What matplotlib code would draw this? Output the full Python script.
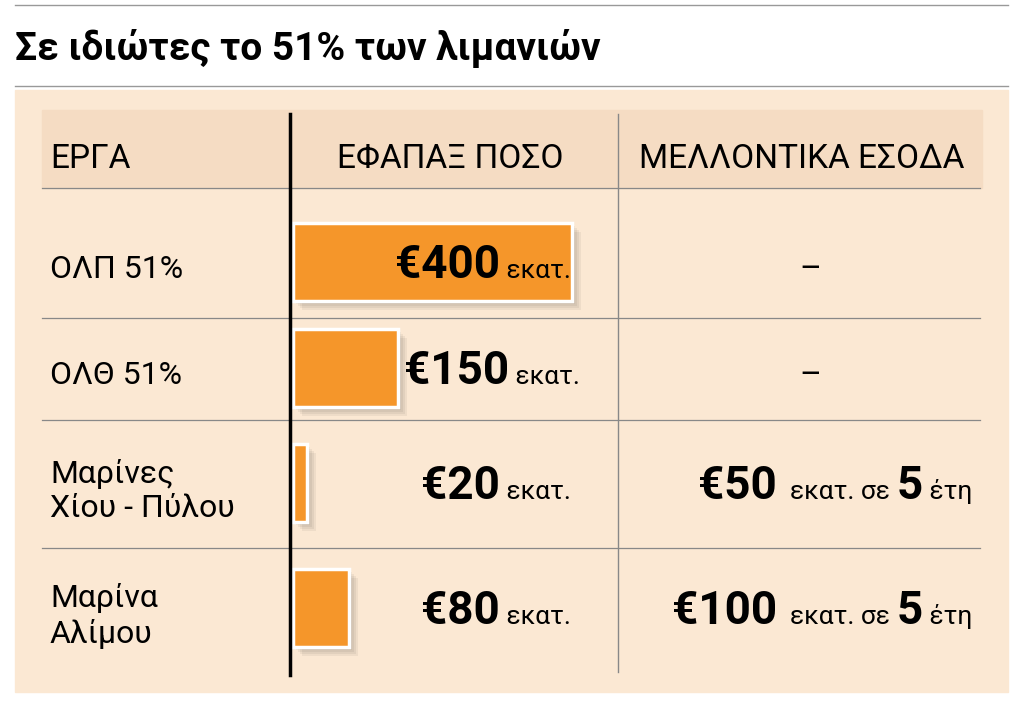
import matplotlib
matplotlib.use("Agg")
import matplotlib.pyplot as plt
from matplotlib.patches import Rectangle

title = "Σε ιδιώτες το 51% των λιμανιών"
headers = ["ΕΡΓΑ", "ΕΦΑΠΑΞ ΠΟΣΟ", "ΜΕΛΛΟΝΤΙΚΑ ΕΣΟΔΑ"]
projects = ["ΟΛΠ 51%", "ΟΛΘ 51%", "Μαρίνες\nΧίου - Πύλου", "Μαρίνα\nΑλίμου"]
upfront = [400, 150, 20, 80]
future = [None, None, 50, 100]
future_years = [None, None, 5, 5]

FONT = ["Liberation Sans Narrow", "Roboto", "DejaVu Sans"]
plt.rcParams["font.family"] = FONT

BG = "#fbe8d3"
HEAD = "#f5dcc3"
ORANGE = "#f5962a"

fig = plt.figure(figsize=(10.24, 7.03), dpi=100)
ax = fig.add_axes([0, 0, 1, 1])
ax.set_xlim(0, 1024)
ax.set_ylim(703, 0)
ax.axis("off")
renderer = fig.canvas.get_renderer()

# frame
ax.plot([15, 1008], [5, 5], color="#999999", lw=1)
ax.text(15, 48, title, fontsize=28, fontweight="bold", va="center", ha="left")
ax.plot([15, 1008], [86, 86], color="#999999", lw=1)
ax.add_patch(Rectangle((15, 90), 993, 602, color=BG, zorder=0))
ax.add_patch(Rectangle((42, 110), 940, 78, color=HEAD, zorder=0.5))

ax.plot([290, 290], [114, 675], color="black", lw=2.5, zorder=5)
ax.plot([618, 618], [114, 672], color="#888888", lw=1, zorder=3)
for y in [188, 318, 420, 548]:
    ax.plot([42, 980], [y, y], color="#888888", lw=0.9, zorder=3)

ax.text(50, 159, headers[0], fontsize=24, va="center", ha="left")
ax.text(450, 159, headers[1], fontsize=24, va="center", ha="center")
ax.text(802, 159, headers[2], fontsize=24, va="center", ha="center")


def segments(x, y, segs, align="right"):
    # segs: list of (text, bold, size)
    if align == "right":
        for txt, bold, size in reversed(segs):
            t = ax.text(x, y, txt, fontsize=size, fontweight="bold" if bold else "normal",
                        ha="right", va="baseline", zorder=6)
            x -= t.get_window_extent(renderer).width
    else:
        for txt, bold, size in segs:
            t = ax.text(x, y, txt, fontsize=size, fontweight="bold" if bold else "normal",
                        ha="left", va="baseline", zorder=6)
            x += t.get_window_extent(renderer).width


centers = [262, 368, 483, 608]
scale = 279 / 400
bar_h = 78
x0 = 293
for i, (name, val, fut, yrs) in enumerate(zip(projects, upfront, future, future_years)):
    yc = centers[i]
    ax.text(50, yc + 8, name, fontsize=23, va="center", ha="left", linespacing=1.25)
    w = val * scale
    for k in range(4):
        off = 3 + k * 2
        ax.add_patch(Rectangle((x0 + off, yc - bar_h / 2 + off), w, bar_h,
                               color="#000000", alpha=0.05, zorder=2, lw=0))
    ax.barh([yc], [w], left=x0, height=bar_h, color=ORANGE, edgecolor="white",
            linewidth=2.5, zorder=4)
    base = yc + 16
    seg = [(f"€{val}", True, 33), (" εκατ.", False, 19)]
    if i == 1:
        segments(x0 + w + 6, base, seg, align="left")
    else:
        segments(571, base, seg)
    if fut is None:
        ax.text(810, yc + 8, "–", fontsize=24, ha="center", va="center")
    else:
        segments(972, base, [(f"€{fut}", True, 33), ("  εκατ. σε ", False, 19),
                             (str(yrs), True, 33), (" έτη", False, 19)])

fig.savefig("out.png", dpi=100, facecolor="white")
